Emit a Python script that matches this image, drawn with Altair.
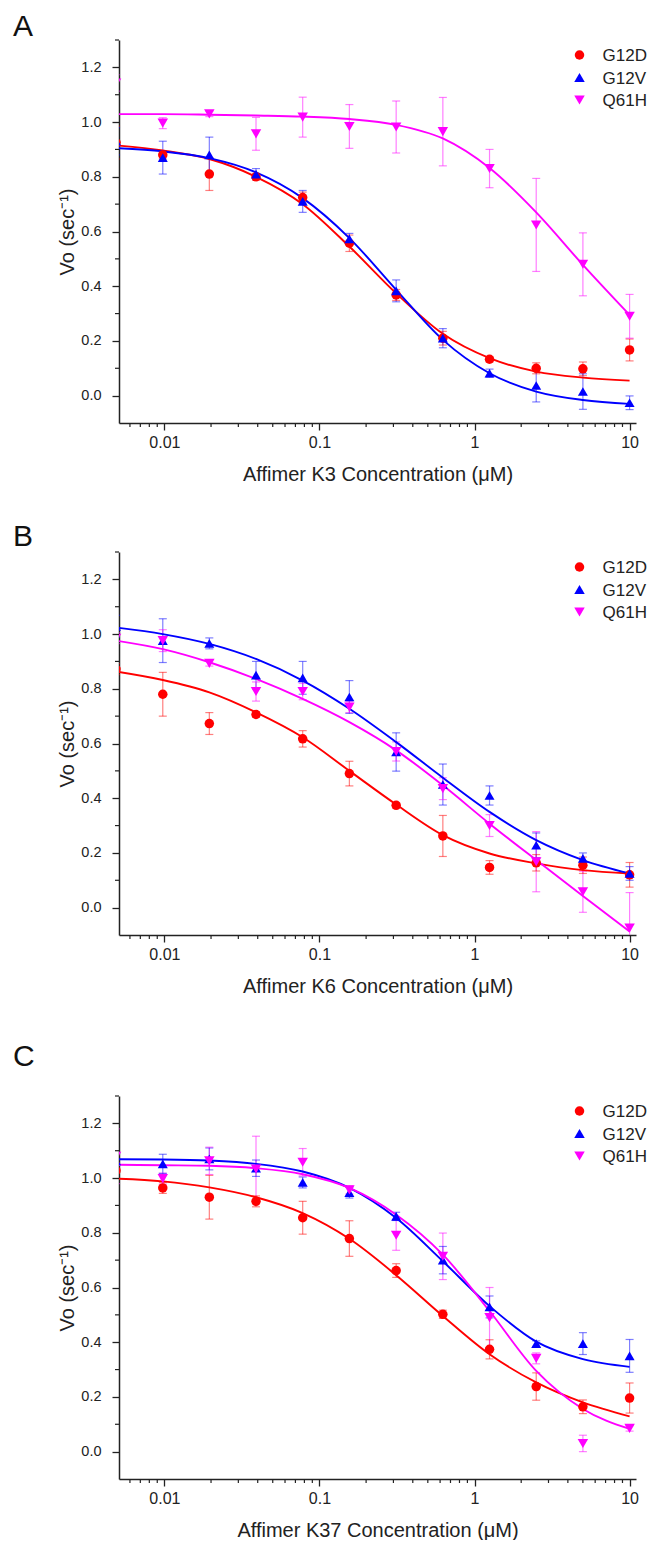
import altair as alt
import pandas as pd

# ---------------- data ----------------
conc = [0.00488, 0.00977, 0.0195, 0.039, 0.078, 0.156, 0.3125, 0.625, 1.25, 2.5, 5.0, 10.0]
series = ["G12D", "G12V", "Q61H"]
colors = ["#ff0000", "#0000ff", "#ff00ff"]
shapes = ["circle", "triangle-up", "triangle-down"]

x_major = [0.01, 0.1, 1, 10]
x_minor = [0.006, 0.007, 0.008, 0.009, 0.02, 0.03, 0.04, 0.05, 0.06, 0.07, 0.08, 0.09,
           0.2, 0.3, 0.4, 0.5, 0.6, 0.7, 0.8, 0.9, 2, 3, 4, 5, 6, 7, 8, 9]
y_major = [0.0, 0.2, 0.4, 0.6, 0.8, 1.0, 1.2]
y_minor = [0.1, 0.3, 0.5, 0.7, 0.9, 1.1, 1.3]

# Panel A (Affimer K3)
a_g12d = [0.925, 0.88, 0.81, 0.80, 0.724, 0.557, 0.368, 0.21, 0.133, 0.10, 0.098, 0.167]
a_g12d_err = [0.06, 0.015, 0.06, 0.012, 0.02, 0.03, 0.02, 0.025, 0.01, 0.02, 0.025, 0.04]
a_g12v = [0.93, 0.87, 0.88, 0.81, 0.71, 0.573, 0.383, 0.21, 0.082, 0.037, 0.015, -0.026]
a_g12v_err = [0.05, 0.06, 0.065, 0.02, 0.04, 0.02, 0.04, 0.035, 0.015, 0.06, 0.065, 0.025]
a_q61h = [1.143, 0.996, 1.03, 0.957, 1.018, 0.984, 0.982, 0.965, 0.83, 0.624, 0.48, 0.29]
a_q61h_err = [0.03, 0.02, 0.01, 0.06, 0.073, 0.08, 0.095, 0.125, 0.07, 0.17, 0.115, 0.08]
a_fit_g12d = [0.915, 0.896, 0.865, 0.80, 0.70, 0.545, 0.374, 0.226, 0.137, 0.088, 0.066, 0.055]
a_fit_g12v = [0.905, 0.893, 0.868, 0.816, 0.722, 0.576, 0.387, 0.204, 0.082, 0.015, -0.016, -0.03]
a_fit_q61h = [1.029, 1.029, 1.027, 1.024, 1.02, 1.011, 0.99, 0.94, 0.832, 0.67, 0.478, 0.295]

# Panel B (Affimer K6)
b_g12d = [0.872, 0.78, 0.673, 0.706, 0.617, 0.49, 0.374, 0.262, 0.147, 0.164, 0.155, 0.12]
b_g12d_err = [0.02, 0.08, 0.04, 0.01, 0.03, 0.045, 0.01, 0.075, 0.025, 0.03, 0.03, 0.045]
b_g12v = [1.028, 0.976, 0.966, 0.85, 0.84, 0.77, 0.569, 0.45, 0.41, 0.228, 0.18, 0.125]
b_g12v_err = [0.04, 0.08, 0.02, 0.05, 0.06, 0.06, 0.07, 0.075, 0.035, 0.045, 0.02, 0.025]
b_q61h = [0.985, 0.976, 0.893, 0.79, 0.79, 0.733, 0.571, 0.435, 0.30, 0.168, 0.058, -0.075]
b_q61h_err = [0.02, 0.04, 0.01, 0.035, 0.03, 0.02, 0.035, 0.04, 0.04, 0.11, 0.075, 0.13]
b_fit_g12d = [0.863, 0.832, 0.787, 0.714, 0.623, 0.50, 0.377, 0.265, 0.198, 0.162, 0.137, 0.125]
b_fit_g12v = [1.024, 1.0, 0.964, 0.909, 0.83, 0.727, 0.605, 0.475, 0.35, 0.247, 0.174, 0.125]
b_fit_q61h = [0.976, 0.945, 0.897, 0.836, 0.763, 0.678, 0.575, 0.447, 0.307, 0.174, 0.043, -0.087]

# Panel C (Affimer K37)
c_g12d = [1.027, 0.964, 0.93, 0.915, 0.855, 0.779, 0.662, 0.502, 0.374, 0.238, 0.164, 0.196]
c_g12d_err = [0.03, 0.02, 0.08, 0.02, 0.06, 0.065, 0.025, 0.015, 0.035, 0.05, 0.025, 0.055]
c_g12v = [1.063, 1.052, 1.07, 1.036, 0.984, 0.947, 0.86, 0.70, 0.529, 0.395, 0.395, 0.35]
c_g12v_err = [0.03, 0.035, 0.04, 0.03, 0.02, 0.02, 0.015, 0.05, 0.04, 0.01, 0.04, 0.06]
c_q61h = [1.08, 0.998, 1.063, 1.033, 1.058, 0.957, 0.791, 0.714, 0.49, 0.341, 0.03, 0.085]
c_q61h_err = [0.1, 0.02, 0.05, 0.12, 0.05, 0.015, 0.055, 0.085, 0.11, 0.02, 0.03, 0.01]
c_fit_g12d = [0.998, 0.988, 0.966, 0.93, 0.872, 0.778, 0.645, 0.496, 0.356, 0.253, 0.18, 0.129]
c_fit_g12v = [1.069, 1.068, 1.064, 1.052, 1.024, 0.964, 0.854, 0.696, 0.532, 0.402, 0.338, 0.31]
c_fit_q61h = [1.049, 1.047, 1.045, 1.036, 1.014, 0.964, 0.866, 0.72, 0.514, 0.295, 0.156, 0.083]

# ---------------- layout constants ----------------
W, H = 517, 383
FONT = "Liberation Sans"
INK = "#222222"
marker_sizes = [90, 110, 110]


def points_df(vals, errs):
    rows = []
    for s, col, v_list, e_list in zip(series, colors, vals, errs):
        for c, v, e in zip(conc, v_list, e_list):
            rows.append({"conc": c, "series": s, "col": col, "v": v, "lo": v - e, "hi": v + e})
    return pd.DataFrame(rows)


def fit_df(fits):
    rows = []
    for s, col, f_list in zip(series, colors, fits):
        for c, f in zip(conc, f_list):
            rows.append({"conc": c, "series": s, "col": col, "fit": f})
    return pd.DataFrame(rows)


def legend_layers():
    out = []
    for i, (s, col, shp, sz) in enumerate(zip(series, colors, shapes, marker_sizes)):
        d = pd.DataFrame({"s": [s]})
        yy = 15 + 22.5 * i
        out.append(alt.Chart(d).mark_point(filled=True, opacity=1, shape=shp, color=col, size=sz)
                   .encode(x=alt.value(460.5), y=alt.value(yy)))
        out.append(alt.Chart(d).mark_text(align="left", baseline="middle", fontSize=17,
                                          font=FONT, color=INK)
                   .encode(text="s:N", x=alt.value(483.5), y=alt.value(yy + 1)))
    return out


def panel(letter, letter_y, xtitle, vals, errs, fits):
    xs = alt.Scale(type="log", domain=[0.0051, 11], nice=False)
    ys = alt.Scale(domain=[-0.1, 1.3], nice=False, zero=False)
    cs = alt.Scale(domain=series, range=colors)
    ss = alt.Scale(domain=series, range=shapes)
    zs = alt.Scale(domain=series, range=marker_sizes)
    pdf = points_df(vals, errs)
    fdf = fit_df(fits)

    x_axis = alt.Axis(values=x_major, format="~g", title=xtitle, grid=False,
                      tickSize=7, tickWidth=1.3, tickColor=INK,
                      domainColor=INK, domainWidth=1.5,
                      labelFontSize=16, labelFont=FONT, labelColor=INK,
                      labelPadding=4, labelFlush=False,
                      titleFontSize=20, titleFont=FONT, titleColor=INK,
                      titleFontWeight="normal", titlePadding=14)
    y_axis = alt.Axis(values=y_major, format=".1f", title="Vo (sec\u207b\u00b9)",
                      grid=False, tickSize=7, tickWidth=1.3, tickColor=INK,
                      domainColor=INK, domainWidth=1.5,
                      labelFontSize=14.5, labelFont=FONT, labelColor=INK,
                      labelPadding=11, titleFontSize=20, titleFont=FONT,
                      titleColor=INK, titleFontWeight="normal", titlePadding=3)

    def X(f):
        return alt.X(f, scale=xs, axis=x_axis)

    def Y(f):
        return alt.Y(f, scale=ys, axis=y_axis)

    base = alt.Chart(pdf)
    lines = alt.Chart(fdf).mark_line(strokeWidth=1.9, clip=True, interpolate="monotone").encode(
        x=X("conc:Q"), y=Y("fit:Q"),
        color=alt.Color("col:N", scale=None),
        detail="series:N",
    )
    bars = base.mark_rule(strokeWidth=1.2, opacity=0.5, clip=True).encode(
        x=X("conc:Q"), y=Y("lo:Q"), y2="hi:Q",
        color=alt.Color("col:N", scale=None),
    )
    cap_hi = base.mark_tick(orient="horizontal", size=8, thickness=1.2, opacity=0.5, clip=True).encode(
        x=X("conc:Q"), y=Y("hi:Q"),
        color=alt.Color("col:N", scale=None),
    )
    cap_lo = base.mark_tick(orient="horizontal", size=8, thickness=1.2, opacity=0.5, clip=True).encode(
        x=X("conc:Q"), y=Y("lo:Q"),
        color=alt.Color("col:N", scale=None),
    )
    pts = base.mark_point(filled=True, opacity=1, clip=True).encode(
        x=X("conc:Q"), y=Y("v:Q"),
        color=alt.Color("series:N", scale=cs, legend=None),
        shape=alt.Shape("series:N", scale=ss, legend=None),
        size=alt.Size("series:N", scale=zs, legend=None),
    )
    xminor = alt.Chart(pd.DataFrame({"m": x_minor})).mark_rule(color=INK, strokeWidth=1.2).encode(
        x=X("m:Q"), y=alt.value(H), y2=alt.value(H + 4),
    )
    yminor = alt.Chart(pd.DataFrame({"m": y_minor})).mark_rule(color=INK, strokeWidth=1.2).encode(
        y=Y("m:Q"), x=alt.value(0), x2=alt.value(-4),
    )
    lab = alt.Chart(pd.DataFrame({"t": [letter]})).mark_text(
        align="left", baseline="top", fontSize=30, font=FONT, color="#111111"
    ).encode(text="t:N", x=alt.value(-106), y=alt.value(letter_y))

    layers = [xminor, yminor, bars, cap_hi, cap_lo, lines, pts, lab] + legend_layers()
    return alt.layer(*layers).properties(width=W, height=H)


pA = panel("A", -28, "Affimer K3 Concentration (\u03bcM)",
           [a_g12d, a_g12v, a_q61h], [a_g12d_err, a_g12v_err, a_q61h_err],
           [a_fit_g12d, a_fit_g12v, a_fit_q61h])
pB = panel("B", -30, "Affimer K6 Concentration (\u03bcM)",
           [b_g12d, b_g12v, b_q61h], [b_g12d_err, b_g12v_err, b_q61h_err],
           [b_fit_g12d, b_fit_g12v, b_fit_q61h])
pC = panel("C", -54, "Affimer K37 Concentration (\u03bcM)",
           [c_g12d, c_g12v, c_q61h], [c_g12d_err, c_g12v_err, c_q61h_err],
           [c_fit_g12d, c_fit_g12v, c_fit_q61h])

res = dict(x="independent", y="independent", color="independent",
           shape="independent", size="independent")
top = alt.vconcat(pA, pB, spacing=38).resolve_scale(**res)
chart = alt.vconcat(top, pC, spacing=46).resolve_scale(**res).properties(
    padding={"left": 5, "top": 4, "right": 0, "bottom": 0}
).configure(font=FONT).configure_view(stroke=None)

chart.save("out.html", embed_options={"renderer": "svg", "actions": False})
